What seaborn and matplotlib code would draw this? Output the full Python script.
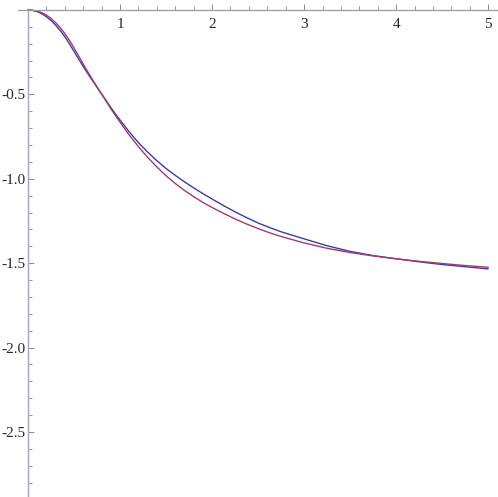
import matplotlib
matplotlib.use("Agg")
import matplotlib.pyplot as plt
from matplotlib import font_manager
import seaborn as sns
import pandas as pd

# data
x_vals = [0.0, 0.05, 0.1, 0.15, 0.2, 0.25, 0.3, 0.35, 0.4, 0.45, 0.5, 0.55, 0.6, 0.65,
          0.7, 0.75, 0.8, 0.85, 0.9, 0.95, 1.0, 1.1, 1.2, 1.3, 1.4, 1.5, 1.6, 1.7, 1.8,
          1.9, 2.0, 2.125, 2.25, 2.375, 2.5, 2.625, 2.75, 3.0, 3.25, 3.5, 3.75, 4.0,
          4.25, 4.5, 4.75, 5.0]
blue_vals = [0.0, -0.0025, -0.010, -0.022, -0.040, -0.062, -0.090, -0.122, -0.158, -0.200,
             -0.245, -0.290, -0.335, -0.377, -0.418, -0.458, -0.498, -0.538, -0.578, -0.616,
             -0.652, -0.722, -0.786, -0.842, -0.893, -0.939, -0.980, -1.018, -1.054, -1.088,
             -1.120, -1.159, -1.196, -1.230, -1.262, -1.289, -1.314, -1.356, -1.397, -1.430,
             -1.455, -1.474, -1.492, -1.508, -1.521, -1.534]
purple_vals = [0.0, -0.002, -0.007, -0.016, -0.030, -0.050, -0.075, -0.105, -0.140, -0.180,
               -0.225, -0.272, -0.320, -0.367, -0.412, -0.456, -0.498, -0.542, -0.585, -0.626,
               -0.665, -0.741, -0.810, -0.873, -0.930, -0.982, -1.028, -1.069, -1.106, -1.140,
               -1.170, -1.205, -1.238, -1.268, -1.295, -1.320, -1.342, -1.380, -1.412, -1.437,
               -1.457, -1.474, -1.489, -1.502, -1.514, -1.524]
series_names = ["blue", "purple"]
x_ticks = [1, 2, 3, 4, 5]
x_tick_labels = ["1", "2", "3", "4", "5"]
y_ticks = [-2.5, -2.0, -1.5, -1.0, -0.5]
y_tick_labels = ["-2.5", "-2.0", "-1.5", "-1.0", "-0.5"]

df = pd.DataFrame({
    "x": x_vals + x_vals,
    "y": blue_vals + purple_vals,
    "series": [series_names[0]] * len(x_vals) + [series_names[1]] * len(x_vals),
})

sns.set_style("white")
available = {f.name for f in font_manager.fontManager.ttflist}
serif_list = [f for f in ["Liberation Serif", "Times New Roman", "Nimbus Roman",
                          "DejaVu Serif"] if f in available] or ["DejaVu Serif"]
plt.rcParams["font.family"] = serif_list
plt.rcParams["font.serif"] = serif_list
tick_font = font_manager.FontProperties(family=serif_list, size=11)

fig = plt.figure(figsize=(4.98, 4.97), dpi=100)
ax = fig.add_axes([0, 0, 1, 1])
ax.patch.set_alpha(0)

sns.lineplot(data=df, x="x", y="y", hue="series", palette=["#3b3ba8", "#a03c6c"],
             estimator=None, sort=False, linewidth=1.0, legend=False, ax=ax)

ax.set_xlim(-0.304, 5.106)
ax.set_ylim(-2.885, 0.059)

for s in ["right", "bottom"]:
    ax.spines[s].set_visible(False)
ax.spines["top"].set_position(("data", 0))
ax.spines["top"].set_color("#9a9a9a")
ax.spines["top"].set_linewidth(0.9)
ax.spines["top"].set_bounds(-0.11, 5.106)
ax.spines["left"].set_position(("data", 0))
ax.spines["left"].set_color("#a5a2d2")
ax.spines["left"].set_linewidth(1.0)
ax.spines["left"].set_bounds(-2.885, 0)

ax.xaxis.set_ticks_position("top")
ax.yaxis.set_ticks_position("left")
ax.set_xticks(x_ticks)
ax.set_xticklabels(x_tick_labels)
ax.set_yticks(y_ticks)
ax.set_yticklabels(y_tick_labels)
ax.set_xticks([0.2 * i for i in range(1, 26) if i % 5 != 0], minor=True)
ax.set_yticks([-0.1 * i for i in range(1, 29) if i % 5 != 0], minor=True)

ax.tick_params(axis="x", which="major", direction="out", length=4.3, width=0.7,
               color="#8a8a8a", labeltop=True, labelbottom=False, pad=-19.5)
ax.tick_params(axis="x", which="minor", direction="out", length=2.6, width=0.6,
               color="#8a8a8a")
ax.tick_params(axis="y", which="major", direction="in", length=4.3, width=0.7,
               color="#8a8a8a", pad=1.5)
ax.tick_params(axis="y", which="minor", direction="in", length=2.6, width=0.6,
               color="#8a8a8a")
for lab in ax.get_xticklabels() + ax.get_yticklabels():
    lab.set_fontproperties(tick_font)
ax.set_xlabel("")
ax.set_ylabel("")

fig.savefig("out.png", dpi=100)
